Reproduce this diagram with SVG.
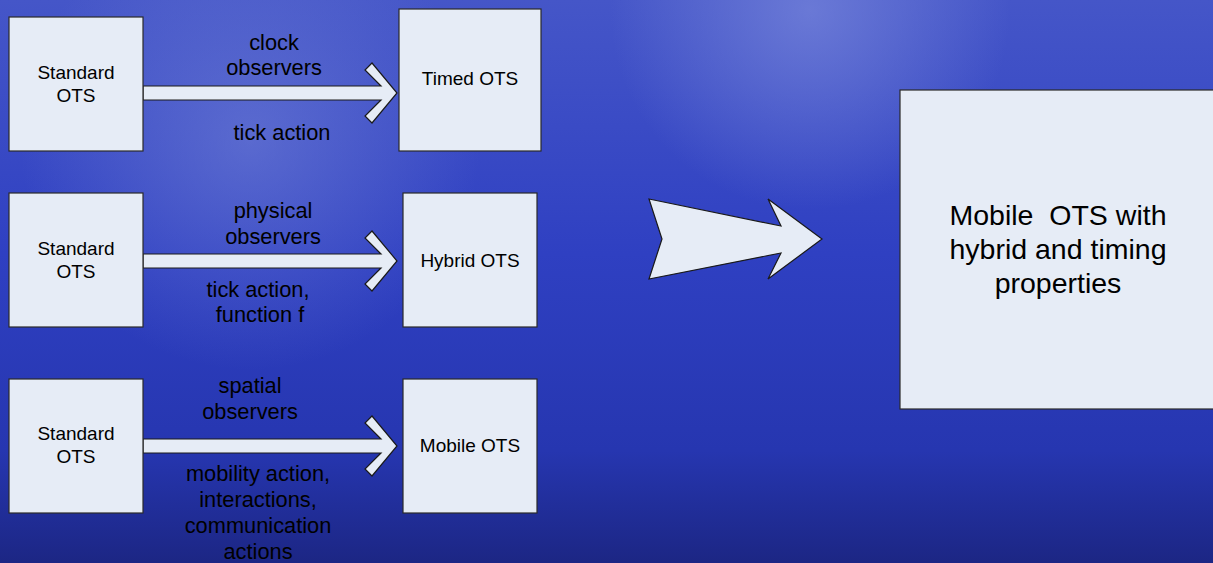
<svg xmlns="http://www.w3.org/2000/svg" width="1213" height="563" viewBox="0 0 1213 563">
<defs>
<linearGradient id="bg" x1="0" y1="0" x2="0" y2="1">
<stop offset="0" stop-color="#4556c8"/>
<stop offset="0.45" stop-color="#2f40c2"/>
<stop offset="0.8" stop-color="#2636b0"/>
<stop offset="1" stop-color="#1c2684"/>
</linearGradient>
<radialGradient id="glow1" cx="810" cy="10" r="200" gradientUnits="userSpaceOnUse">
<stop offset="0" stop-color="#7a88dc" stop-opacity="0.7"/>
<stop offset="1" stop-color="#7a88dc" stop-opacity="0"/>
</radialGradient>
<radialGradient id="glow2" cx="250" cy="140" r="230" gradientUnits="userSpaceOnUse">
<stop offset="0" stop-color="#7584d8" stop-opacity="0.55"/>
<stop offset="1" stop-color="#7584d8" stop-opacity="0"/>
</radialGradient>
<style>
.box{fill:#e6ecf6;stroke:#2a2a2a;stroke-width:1.2}
.arr{fill:#e6ecf6;stroke:#1a1a1a;stroke-width:1.2;stroke-linejoin:miter}
text{font-family:"Liberation Sans",Arial,sans-serif;fill:#000;text-anchor:middle}
.n{font-size:19px}
.l{font-size:21.8px}
.big{font-size:28.5px}
</style>
</defs>
<rect width="1213" height="563" fill="url(#bg)"/>
<rect width="1213" height="563" fill="url(#glow1)"/>
<rect width="1213" height="563" fill="url(#glow2)"/>

<g id="connectors">
<path class="arr" d="M143,86 H381 L365,70 L372,63 L397,93 L372,123 L365,116 L381,100 H143 Z"/>
<path class="arr" d="M143,254 H381 L365,238 L372,231 L397,261 L372,291 L365,284 L381,268 H143 Z"/>
<path class="arr" d="M143,439 H381 L365,423 L372,416 L397,446 L372,476 L365,469 L381,453 H143 Z"/>
<path class="arr" d="M649,199 L781,226 L768,199 L822,239 L768,279 L781,253 L649,279 L662,239 Z"/>
<g id="label-1">
<text class="l" x="274" y="50">clock</text>
<text class="l" x="274" y="75">observers</text>
<text class="l" x="282" y="140">tick action</text>
</g>
<g id="label-2">
<text class="l" x="273" y="218">physical</text>
<text class="l" x="273" y="244">observers</text>
<text class="l" x="258" y="297">tick action,</text>
<text class="l" x="260" y="322">function f</text>
</g>
<g id="label-3">
<text class="l" x="250" y="393">spatial</text>
<text class="l" x="250" y="419">observers</text>
<text class="l" x="258" y="481">mobility action,</text>
<text class="l" x="258" y="507">interactions,</text>
<text class="l" x="258" y="533">communication</text>
<text class="l" x="258" y="559">actions</text>
</g>
</g>

<g id="std1"><rect class="box" x="9" y="17" width="134" height="134"/><text class="n" x="76" y="79">Standard</text><text class="n" x="76" y="102">OTS</text></g>
<g id="std2"><rect class="box" x="9" y="193" width="134" height="134"/><text class="n" x="76" y="255">Standard</text><text class="n" x="76" y="278">OTS</text></g>
<g id="std3"><rect class="box" x="9" y="379" width="134" height="134"/><text class="n" x="76" y="440">Standard</text><text class="n" x="76" y="463">OTS</text></g>
<g id="timed"><rect class="box" x="399" y="9" width="142" height="142"/><text class="n" x="470" y="85">Timed OTS</text></g>
<g id="hybrid"><rect class="box" x="403" y="193" width="134" height="134"/><text class="n" x="470" y="267">Hybrid OTS</text></g>
<g id="mobile"><rect class="box" x="403" y="379" width="134" height="134"/><text class="n" x="470" y="452">Mobile OTS</text></g>
<g id="result"><rect class="box" x="900" y="90" width="320" height="319"/>
<text class="big" x="1058" y="225" xml:space="preserve">Mobile  OTS with</text>
<text class="big" x="1058" y="259">hybrid and timing</text>
<text class="big" x="1058" y="293">properties</text>
</g>
</svg>
